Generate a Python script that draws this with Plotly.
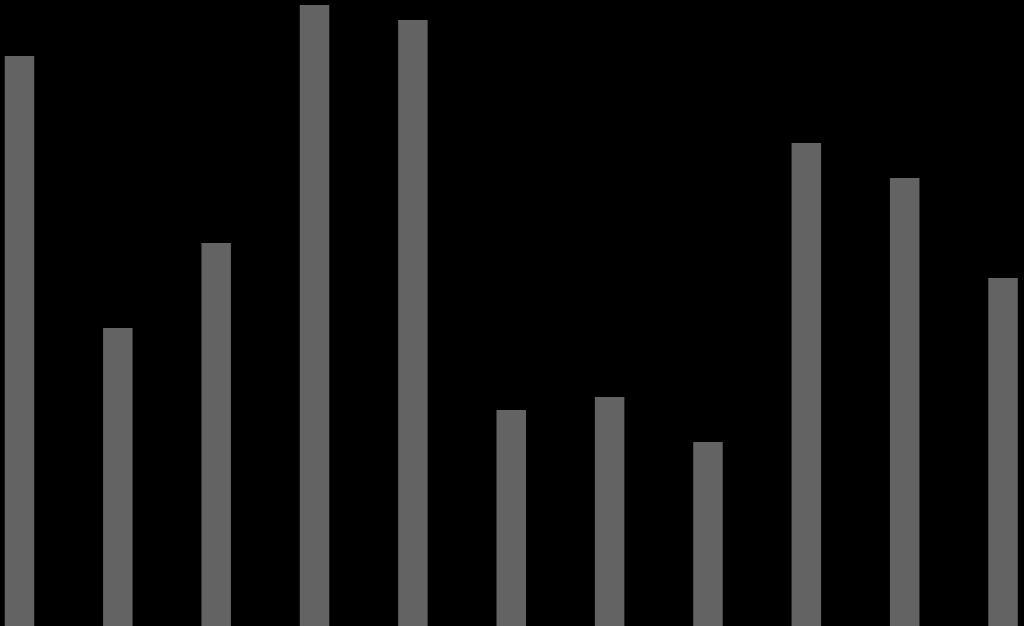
import plotly.graph_objects as go

# bar heights (pixels above the bottom edge)
categories = list(range(11))
values = [570, 298, 383, 621, 606, 216, 229, 184, 483, 448, 348]

fig = go.Figure(
    go.Bar(
        x=categories,
        y=values,
        width=0.3,
        marker=dict(color="#636363", line=dict(width=0)),
    )
)

fig.update_layout(
    width=1024,
    height=626,
    margin=dict(t=0, r=0, b=0, l=0),
    paper_bgcolor="black",
    plot_bgcolor="black",
    showlegend=False,
    xaxis=dict(visible=False, range=[-0.198, 10.213]),
    yaxis=dict(visible=False, range=[0, 626]),
)

# drop the default page margin so the figure sits flush in the window
fig.write_html(
    "out.html",
    config=dict(displayModeBar=False),
    post_script="document.body.style.margin='0';"
    "document.body.style.background='black';"
    "document.body.style.overflow='hidden';",
)
